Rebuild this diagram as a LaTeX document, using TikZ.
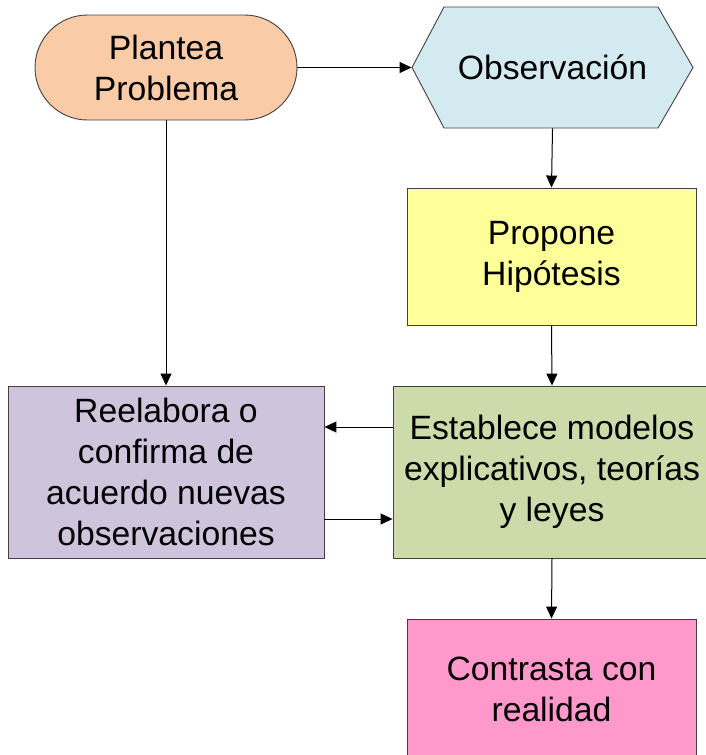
\documentclass[tikz,border=0pt]{standalone}
\usepackage{fontspec}
\setmainfont{Liberation Sans}
\usetikzlibrary{arrows.meta}
\definecolor{cplan}{HTML}{F9CBA6}
\definecolor{cobs}{HTML}{D3EAF0}
\definecolor{cprop}{HTML}{FFFF99}
\definecolor{cest}{HTML}{CDDAAA}
\definecolor{creel}{HTML}{CEC5DD}
\definecolor{ccon}{HTML}{FF99CC}
\definecolor{cedge}{HTML}{404040}
\tikzset{
  box/.style={draw=cedge, line width=0.9pt, align=center, inner sep=0pt,
    font=\fontsize{33.7}{41}\selectfont},
  arr/.style={line width=1pt, -{Triangle[length=12pt,width=11pt]}},
}
\begin{document}
\begin{tikzpicture}[x=1pt,y=-1pt]
\useasboundingbox (0,0) rectangle (706,755);
% Plantea Problema
\node[box, fill=cplan, rounded corners=52.5pt, minimum width=262pt, minimum height=105pt] (plan) at (166,67.5) {Plantea\\Problema};
% Observacion hexagon
\draw[draw=cedge, line width=0.9pt, fill=cobs] (412,67.5) -- (444,7) -- (658,7) -- (693,67.5) -- (658,128) -- (444,128) -- cycle;
\node[box, draw=none, minimum width=281pt, minimum height=121pt] (obs) at (552.5,67.5) {Observación};
% Propone Hipotesis
\node[box, fill=cprop, minimum width=289pt, minimum height=137pt] (prop) at (551.5,256.5) {Propone\\Hipótesis};
% Establece
\node[box, fill=cest, minimum width=318pt, minimum height=172pt] (est) at (552,472) {Establece modelos\\explicativos, teorías\\y leyes};
% Reelabora
\node[box, fill=creel, minimum width=316pt, minimum height=172pt] (reel) at (166,472) {Reelabora o\\confirma de\\acuerdo nuevas\\observaciones};
% Contrasta
\node[box, fill=ccon, minimum width=289pt, minimum height=140pt] (con) at (551.5,689) {Contrasta con\\realidad};
% connectors
\draw[arr] (plan.east) -- (obs.west);
\draw[arr] (obs.south) -- (prop.north);
\draw[arr] (prop.south) -- (est.north);
\draw[arr] (plan.south) -- (reel.north);
\draw[arr] ([yshift=45pt]est.west) -- ([yshift=45pt]reel.east);
\draw[arr] ([yshift=-47pt]reel.east) -- ([yshift=-47pt]est.west);
\draw[arr] (est.south) -- (con.north);
\end{tikzpicture}
\end{document}
